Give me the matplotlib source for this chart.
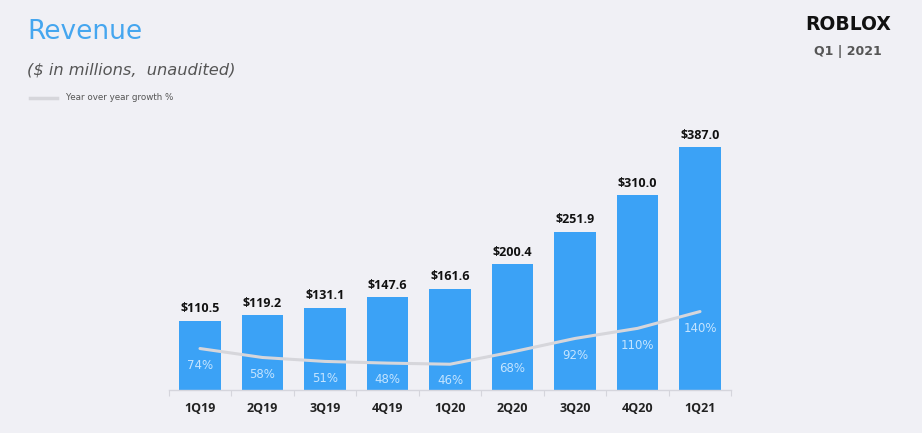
import matplotlib
matplotlib.use("Agg")
import matplotlib.pyplot as plt

quarters = ["1Q19", "2Q19", "3Q19", "4Q19", "1Q20", "2Q20", "3Q20", "4Q20", "1Q21"]
revenue = [110.5, 119.2, 131.1, 147.6, 161.6, 200.4, 251.9, 310.0, 387.0]
growth = [74, 58, 51, 48, 46, 68, 92, 110, 140]

BG = "#f0f0f5"
BAR = "#3ba2f6"
plt.rcParams['font.family'] = ['DejaVu Sans']
BOLDF = ['Open Sans', 'DejaVu Sans']

fig = plt.figure(figsize=(9.22, 4.33), dpi=100, facecolor=BG)
ax = fig.add_axes([168.75/922, 43/433, 562.5/922, 260/433])
ax.set_facecolor(BG)
x = list(range(len(quarters)))
ax.bar(x, revenue, width=0.66, color=BAR, zorder=2)
ax.set_xlim(-0.5, len(quarters) - 0.5)
ax.set_ylim(0, 414)
for s in ["top", "right", "left"]:
    ax.spines[s].set_visible(False)
ax.spines["bottom"].set_color("#d5d5dc")
ax.spines["bottom"].set_linewidth(1.0)
ax.set_yticks([])
ax.set_xticks(x)
ax.set_xticklabels(quarters, fontsize=9, fontweight="bold", color="#222222", family=BOLDF)
ax.tick_params(axis="x", length=0, pad=9)
ax.set_xticks([i - 0.5 for i in range(len(quarters) + 1)], minor=True)
ax.tick_params(axis="x", which="minor", length=4, color="#d5d5dc", width=0.8)

for xi, v in zip(x, revenue):
    ax.annotate(f"${v:.1f}", (xi, v), xytext=(0, 8.5), textcoords="offset points",
                ha="center", va="center", fontsize=9, fontweight="bold", color="#111111",
                family=BOLDF)

ax2 = ax.twinx()
ax2.set_ylim(0, 464)
ax2.axis("off")
ax2.plot(x, growth, color="#d6d6db", lw=2.2, zorder=3, solid_capstyle="round")
for xi, g in zip(x, growth):
    ax2.annotate(f"{g}%", (xi, g), xytext=(0, -12), textcoords="offset points",
                 ha="center", va="center", fontsize=8.5, color="#c4e4ff")

fig.text(27/922, 1 - 32/433, "Revenue", fontsize=19, color="#45a6ef", va="center", ha="left")
fig.text(27/922, 1 - 70/433, "($ in millions,  unaudited)", fontsize=11.7, style="italic",
         color="#555555", va="center", ha="left")
fig.add_artist(plt.Line2D([30/922, 57/922], [1 - 98/433, 1 - 98/433], color="#d6d6db", lw=2.5))
fig.text(66/922, 1 - 98/433, "Year over year growth %", fontsize=6.3, color="#555555",
         va="center", ha="left")
fig.text(848/922, 1 - 25/433, "ROBLOX", fontsize=13.5, fontweight="heavy", color="#111111",
         va="center", ha="center")
fig.text(848/922, 1 - 52/433, "Q1 | 2021", fontsize=9, fontweight="bold", color="#555555",
         va="center", ha="center")

fig.savefig("out.png", dpi=100, facecolor=BG)
